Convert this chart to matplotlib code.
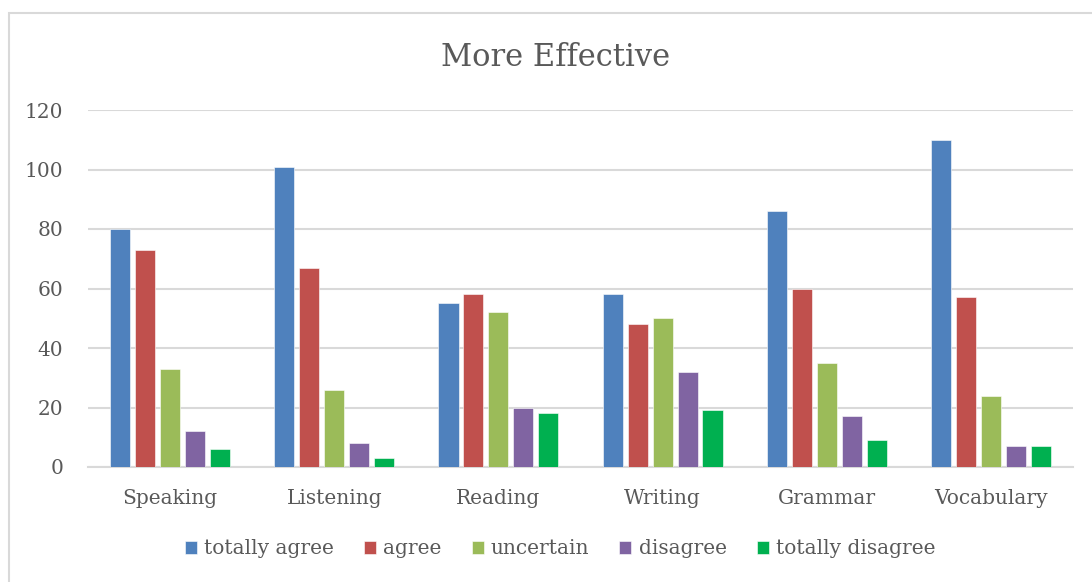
import matplotlib
matplotlib.use("Agg")
import matplotlib.pyplot as plt
import numpy as np
from matplotlib.patches import Rectangle

skills = ["Speaking", "Listening", "Reading", "Writing", "Grammar", "Vocabulary"]
levels = ["totally agree", "agree", "uncertain", "disagree", "totally disagree"]
totally_agree = [80, 101, 55, 58, 86, 110]
agree = [73, 67, 58, 48, 60, 57]
uncertain = [33, 26, 52, 50, 35, 24]
disagree = [12, 8, 20, 32, 17, 7]
totally_disagree = [6, 3, 18, 19, 9, 7]
yticks = [0, 20, 40, 60, 80, 100, 120]

COLORS = ["#4F81BD", "#C0504D", "#9BBB59", "#8064A2", "#00B050"]
TEXT = "#595959"
GRID = "#D9D9D9"

plt.rcParams["font.family"] = ["DejaVu Serif"]

fig = plt.figure(figsize=(10.92, 5.82), dpi=100)
ax = fig.add_axes([88 / 1092, 115 / 582, 985 / 1092, 357 / 582])

x = np.arange(len(skills))
step, width = 0.152, 0.122
series = [totally_agree, agree, uncertain, disagree, totally_disagree]
for k, (vals, name, color) in enumerate(zip(series, levels, COLORS)):
    ax.bar(x + (k - 2) * step, vals, width, color=color, label=name,
           edgecolor="white", linewidth=0.4, zorder=3)

ax.set_xlim(-0.5, len(skills) - 0.5)
ax.set_ylim(0, 120)
ax.set_yticks(yticks)
ax.set_xticks(x)
ax.set_xticklabels(skills)
ax.tick_params(axis="both", length=0, labelsize=14.5, labelcolor=TEXT)
ax.tick_params(axis="x", pad=16)
ax.tick_params(axis="y", pad=18)
ax.grid(axis="y", color=GRID, lw=1.5, zorder=0)
for side in ("top", "right", "left"):
    ax.spines[side].set_visible(False)
ax.spines["bottom"].set_color(GRID)
ax.spines["bottom"].set_linewidth(1.5)

fig.text(556 / 1092, 1 - 57 / 582, "More Effective", ha="center", va="center",
         fontsize=22, color=TEXT)

fig.legend(loc="center", bbox_to_anchor=(560 / 1092, 1 - 549 / 582), ncol=5,
           frameon=False, fontsize=14.5, labelcolor=TEXT, handlelength=0.6,
           handleheight=0.6, handletextpad=0.35, columnspacing=1.5)

# chart frame
fig.patches.append(Rectangle((8.5 / 1092, -0.1), 1.2, (582 - 12.5) / 582 + 0.1,
                             transform=fig.transFigure, fill=False,
                             edgecolor="#D9D9D9", lw=1.5))

fig.savefig("out.png", dpi=100)
